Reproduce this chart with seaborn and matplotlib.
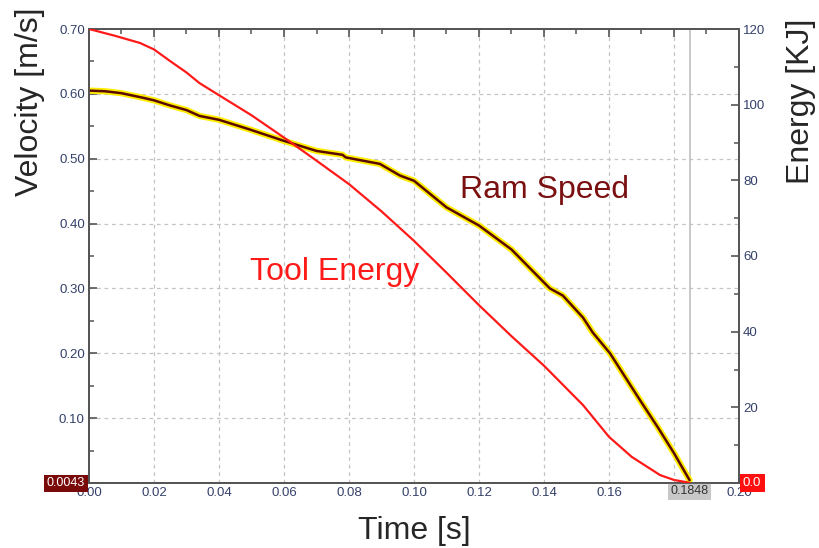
import matplotlib
matplotlib.use("Agg")
import matplotlib.pyplot as plt
import matplotlib.patheffects as pe
from matplotlib.ticker import MultipleLocator
import seaborn as sns
import pandas as pd

# ---- data ----
speed_t = [0.000, 0.005, 0.010, 0.0166, 0.020, 0.025, 0.030, 0.034, 0.040, 0.0495, 0.0597,
           0.070, 0.078, 0.079, 0.0895, 0.0957, 0.100, 0.110, 0.120, 0.130, 0.1418,
           0.1458, 0.152, 0.155, 0.1603, 0.1695, 0.175, 0.180, 0.1848]
speed_v = [0.605, 0.604, 0.601, 0.594, 0.590, 0.582, 0.575, 0.566, 0.560, 0.545, 0.528,
           0.512, 0.506, 0.502, 0.492, 0.474, 0.466, 0.425, 0.397, 0.360, 0.300,
           0.289, 0.255, 0.232, 0.200, 0.128, 0.086, 0.046, 0.0043]

energy_t = [0.000, 0.008, 0.0157, 0.020, 0.025, 0.030, 0.034, 0.040, 0.050, 0.061, 0.070,
            0.080, 0.090, 0.100, 0.110, 0.120, 0.130, 0.140, 0.152, 0.154, 0.160,
            0.167, 0.1757, 0.180, 0.184, 0.1848]
energy_e = [120.0, 118.2, 116.3, 114.6, 111.5, 108.5, 105.7, 102.5, 97.2, 90.7, 85.2,
            79.0, 71.8, 64.0, 55.6, 47.0, 38.8, 31.0, 20.6, 18.5, 12.2,
            6.9, 2.1, 0.8, 0.2, 0.0]

x_ticks = [0.00, 0.02, 0.04, 0.06, 0.08, 0.10, 0.12, 0.14, 0.16, 0.18, 0.20]
x_tick_labels = ["0.00", "0.02", "0.04", "0.06", "0.08", "0.10", "0.12", "0.14", "0.16", "", "0.20"]
v_ticks = [0.10, 0.20, 0.30, 0.40, 0.50, 0.60, 0.70]
e_ticks = [20, 40, 60, 80, 100, 120]
cursor_t = 0.1848
cursor_v_label = "0.0043"
cursor_e_label = "0.0"
cursor_t_label = "0.1848"

sns.set_style("white")
plt.rcParams['font.family'] = ['Liberation Sans', 'DejaVu Sans']

speed_df = pd.DataFrame({"t": speed_t, "v": speed_v})
energy_df = pd.DataFrame({"t": energy_t, "e": energy_e})

fig = plt.figure(figsize=(8.2, 5.48), dpi=100)
ax = fig.add_axes([89/820, 1-483/548, 650/820, 454/548])
ax2 = ax.twinx()

tick_col = "#34406a"
spine_col = "#555555"

# grid
ax.set_axisbelow(True)
for xt in x_ticks[1:-1]:
    ax.axvline(xt, color="#c4c4c4", lw=0.9, ls=(0, (3, 3)), zorder=0)
for vt in v_ticks[:-1]:
    ax.axhline(vt, color="#c4c4c4", lw=0.9, ls=(0, (3, 3)), zorder=0)
ax.axvline(cursor_t, color="#c0c0c0", lw=1.2, zorder=1)

sns.lineplot(data=speed_df, x="t", y="v", ax=ax, color="#5a0a00", lw=1.8, zorder=5,
             path_effects=[pe.Stroke(linewidth=4.5, foreground="#ffee00"), pe.Normal()])
sns.lineplot(data=energy_df, x="t", y="e", ax=ax2, color="#ff1a1a", lw=1.6, zorder=4)

ax.set_xlim(0, 0.20)
ax.set_ylim(0, 0.70)
ax2.set_ylim(0, 120)

ax.set_xticks(x_ticks)
ax.set_xticklabels(x_tick_labels)
ax.set_yticks(v_ticks)
ax.set_yticklabels([f"{v:.2f}" for v in v_ticks])
ax2.set_yticks(e_ticks)
ax2.set_yticklabels([str(e) for e in e_ticks])
ax.xaxis.set_minor_locator(MultipleLocator(0.01))
ax.yaxis.set_minor_locator(MultipleLocator(0.05))
ax2.yaxis.set_minor_locator(MultipleLocator(10))

for a in (ax, ax2):
    for s in a.spines.values():
        s.set_color(spine_col)
        s.set_linewidth(1.3)
ax.tick_params(axis="both", which="major", direction="in", length=6, width=1.2,
               color=spine_col, labelsize=9.5, labelcolor=tick_col, pad=3)
ax.tick_params(axis="both", which="minor", direction="in", length=3.5, width=1.1, color=spine_col)
ax.tick_params(axis="x", which="both", top=True)
ax2.tick_params(axis="y", which="major", direction="in", length=6, width=1.2,
                color=spine_col, labelsize=9.5, labelcolor=tick_col, pad=3)
ax2.tick_params(axis="y", which="minor", direction="in", length=3.5, width=1.1, color=spine_col)

ax.set_xlabel("Time [s]", fontsize=23)
ax.set_ylabel("Velocity [m/s]", fontsize=23)
ax2.set_ylabel("Energy [KJ]", fontsize=23)
for lab in (ax.xaxis.label, ax.yaxis.label, ax2.yaxis.label):
    lab.set_va("center")
    lab.set_ha("center")
ax.xaxis.set_label_coords(0.5, (483 - 531) / 454)
ax.yaxis.set_label_coords((30 - 89) / 650, (483 - 102) / 454)
ax2.yaxis.set_label_coords((801 - 89) / 650, (483 - 101) / 454)

ax.text(0.1142, 0.451, "Ram Speed", color="#7a1010", fontsize=23, va="center", ha="left")
ax.text(0.0495, 0.325, "Tool Energy", color="#ff1a1a", fontsize=23, va="center", ha="left")

# cursor value boxes
ax.text(-0.0012, 0.0, cursor_v_label, ha="right", va="center",
        fontsize=9, color="white",
        bbox=dict(boxstyle="square,pad=0.2", fc="#7a0a0a", ec="none"), clip_on=False, zorder=10)
ax2.text(0.2012, 0.0, cursor_e_label, ha="left", va="center", fontsize=9.5, color="white",
         bbox=dict(boxstyle="square,pad=0.25", fc="#ff1010", ec="none"), clip_on=False, zorder=10)
ax.text(cursor_t, -0.013, cursor_t_label, ha="center", va="center", fontsize=9, color="#333333",
        bbox=dict(boxstyle="square,pad=0.2", fc="#c8c8c8", ec="none"), clip_on=False, zorder=10)

fig.savefig("out.png", dpi=100)
